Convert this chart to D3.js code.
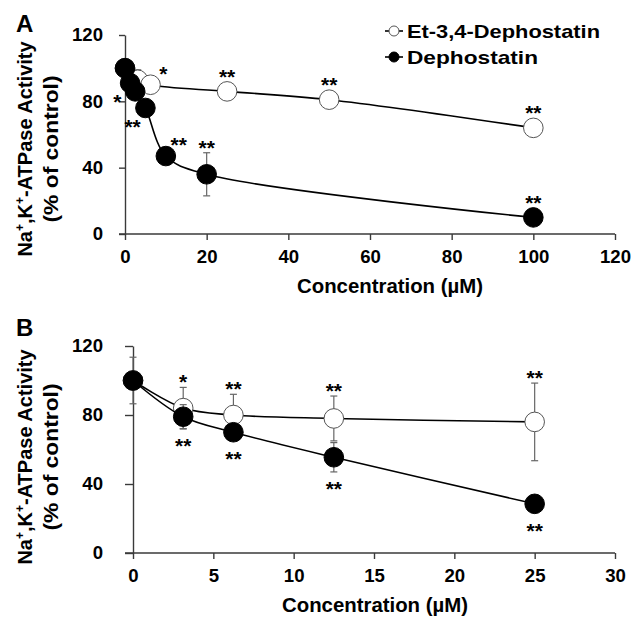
<!DOCTYPE html>
<html>
<head>
<meta charset="utf-8">
<script src="https://cdn.jsdelivr.net/npm/d3@7"></script>
<style>
  body { margin: 0; background: #fff; }
  svg { display: block; font-family: "Liberation Sans", Arial, sans-serif; font-weight: bold; }
</style>
</head>
<body>
<div class="wrapper"></div>
<script>
// Panel A: concentrations up to 100 uM
const aEtConc = [0, 3.125, 6.25, 25, 50, 100]
const aEtValue = [100, 93, 90, 86, 81, 64]
const aEtError = [3, 6, 3, 2, 2, 3]
const aEtSig = ["", "", "*", "**", "**", "**"]

const aDephoConc = [0, 1.25, 2.5, 5, 10, 20, 100]
const aDephoValue = [100, 91, 86, 76, 47, 36, 10]
const aDephoError = [2, 2, 2, 3, 3, 13, 2]
const aDephoSig = ["", "*", "", "**", "**", "**", "**"]

// Panel B: low concentrations
const bConc = [0, 3.125, 6.25, 12.5, 25]
const bEtValue = [100, 84, 80, 78, 76]
const bEtError = [13.5, 12, 12, 13, 22.5]
const bEtSig = ["", "*", "**", "**", "**"]
const bDephoValue = [100, 79, 70, 55.5, 28.5]
const bDephoError = [3, 7, 3, 8.5, 2]
const bDephoSig = ["", "**", "**", "**", "**"]

const aXTicks = [0, 20, 40, 60, 80, 100, 120]
const bXTicks = [0, 5, 10, 15, 20, 25, 30]
const yTicks = [0, 40, 80, 120]

const seriesNames = ["Et-3,4-Dephostatin", "Dephostatin"]
const xTitle = "Concentration (\u00b5M)"

const zip = (xs, ys, es, ss) => xs.map((x, i) => ({x, y: ys[i], e: es[i], s: ss[i]}))

const width = 632
const height = 617
const r = 9.8

const svg = d3.select(".wrapper")
    .append("svg")
    .attr("width", width)
    .attr("height", height)

function sigPos(cx, cy, yTop, yBot, side) {
    if (side === "above") return [cx, Math.min(yTop, cy - r) - 10]
    if (side === "below") return [cx, Math.max(yBot, cy + r) + 12]
    if (side === "lowleft") return [cx - r - 3, cy + r + 4]
    if (side === "upright") return [cx + r + 3, cy - r - 6]
    return [cx, cy]
}

function drawPanel(p) {
    const x = d3.scaleLinear().domain(p.xDomain).range(p.xRange)
    const y = d3.scaleLinear().domain([0, 120]).range(p.yRange)
    const g = svg.append("g")

    const xAxis = g.append("g")
        .attr("transform", `translate(0, ${p.yRange[0]})`)
        .call(d3.axisBottom(x).tickValues(p.xTicks).tickSize(6).tickSizeOuter(0).tickPadding(10))
    const yAxis = g.append("g")
        .attr("transform", `translate(${p.xRange[0]}, 0)`)
        .call(d3.axisLeft(y).tickValues(yTicks).tickSize(p.yTickSize).tickSizeOuter(0).tickPadding(p.yPad))
    ;[xAxis, yAxis].forEach(a => {
        a.selectAll("path, line").attr("stroke", "#3a3a3a").attr("stroke-width", 1.4)
        a.selectAll("text")
            .attr("fill", "#000")
            .style("font-size", "18.6px")
            .style("font-weight", "bold")
            .style("font-family", "'Liberation Sans', Arial, sans-serif")
    })
    // extend x axis line to meet the left tick
    xAxis.select(".domain").attr("d", `M${p.xRange[0] - p.yTickSize},0H${p.xRange[1]}`)

    const line = d3.line()
        .x(d => x(d.x))
        .y(d => y(d.y))
        .curve(d3.curveCatmullRom.alpha(0.5))

    p.series.forEach(s => {
        g.append("path")
            .attr("d", line(s.data))
            .attr("fill", "none")
            .attr("stroke", "#000")
            .attr("stroke-width", 1.6)

        const err = g.append("g").selectAll("g")
            .data(s.data)
            .enter().append("g")
            .attr("stroke", "#666")
            .attr("stroke-width", 1.2)
        err.append("line")
            .attr("x1", d => x(d.x)).attr("x2", d => x(d.x))
            .attr("y1", d => y(d.y + d.e)).attr("y2", d => y(d.y - d.e))
        err.append("line")
            .attr("x1", d => x(d.x) - 3.5).attr("x2", d => x(d.x) + 3.5)
            .attr("y1", d => y(d.y + d.e)).attr("y2", d => y(d.y + d.e))
        err.append("line")
            .attr("x1", d => x(d.x) - 3.5).attr("x2", d => x(d.x) + 3.5)
            .attr("y1", d => y(d.y - d.e)).attr("y2", d => y(d.y - d.e))

        g.append("g").selectAll("circle")
            .data(s.data)
            .enter().append("circle")
            .attr("cx", d => x(d.x))
            .attr("cy", d => y(d.y))
            .attr("r", r)
            .attr("fill", s.filled ? "#000" : "#fff")
            .attr("stroke", s.filled ? "#000" : "#555")
            .attr("stroke-width", 1)
    })

    p.series.forEach(s => {
        s.data.forEach((d, i) => {
            if (!d.s) return
            const [cx, cy] = sigPos(x(d.x), y(d.y), y(d.y + d.e), y(d.y - d.e), s.sides[i])
            g.append("text")
                .attr("x", cx)
                .attr("y", cy + 12)
                .attr("text-anchor", "middle")
                .style("font-size", "21px")
                .text(d.s)
        })
    })

    // panel letter
    g.append("text")
        .attr("x", 16)
        .attr("y", p.letterY)
        .style("font-size", "24px")
        .text(p.letter)

    // y title, two lines
    const yt = g.append("text")
        .attr("transform", `translate(32, ${p.yTitleCenter}) rotate(-90)`)
        .attr("text-anchor", "middle")
        .style("font-size", "20px")
    yt.append("tspan").text("Na")
    yt.append("tspan").attr("dy", -8).style("font-size", "12px").text("+")
    yt.append("tspan").attr("dy", 8).text(",K")
    yt.append("tspan").attr("dy", -8).style("font-size", "12px").text("+")
    yt.append("tspan").attr("dy", 8).text("-ATPase Activity")

    g.append("text")
        .attr("transform", `translate(57.5, ${p.yTitleCenter}) rotate(-90)`)
        .attr("text-anchor", "middle")
        .attr("textLength", 147)
        .attr("lengthAdjust", "spacingAndGlyphs")
        .style("font-size", "21px")
        .text("(% of control)")

    g.append("text")
        .attr("x", p.xTitleStart)
        .attr("y", p.yRange[0] + 59)
        .attr("textLength", 186)
        .attr("lengthAdjust", "spacingAndGlyphs")
        .style("font-size", "20px")
        .text(xTitle)
}

drawPanel({
    letter: "A",
    letterY: 32,
    xDomain: [0, 120],
    xRange: [125, 615],
    yRange: [234, 35],
    xTicks: aXTicks,
    yTickSize: 6,
    yPad: 16,
    yTitleCenter: 149,
    xTitleStart: 297,
    series: [
        {filled: false, data: zip(aEtConc, aEtValue, aEtError, aEtSig),
         sides: ["", "", "upright", "above", "above", "above"]},
        {filled: true, data: zip(aDephoConc, aDephoValue, aDephoError, aDephoSig),
         sides: ["", "lowleft", "", "lowleft", "upright", "above", "above"]},
    ],
})

drawPanel({
    letter: "B",
    letterY: 336,
    xDomain: [0, 30],
    xRange: [133, 615],
    yRange: [553, 346],
    xTicks: bXTicks,
    yTickSize: 8,
    yPad: 22,
    yTitleCenter: 457,
    xTitleStart: 282,
    series: [
        {filled: false, data: zip(bConc, bEtValue, bEtError, bEtSig),
         sides: ["", "above", "above", "above", "above"]},
        {filled: true, data: zip(bConc, bDephoValue, bDephoError, bDephoSig),
         sides: ["", "below", "below", "below", "below"]},
    ],
})

// legend
const legend = svg.append("g")
const legendRows = [{name: seriesNames[0], filled: false, y: 31, len: 193},
                    {name: seriesNames[1], filled: true, y: 57, len: 131}]
legendRows.forEach(row => {
    legend.append("line")
        .attr("x1", 385).attr("x2", 403)
        .attr("y1", row.y).attr("y2", row.y)
        .attr("stroke", "#000").attr("stroke-width", 1.6)
    legend.append("circle")
        .attr("cx", 394).attr("cy", row.y).attr("r", 5)
        .attr("fill", row.filled ? "#000" : "#fff")
        .attr("stroke", row.filled ? "#000" : "#555")
    legend.append("text")
        .attr("x", 407)
        .attr("y", row.y + 7)
        .attr("textLength", row.len)
        .attr("lengthAdjust", "spacingAndGlyphs")
        .style("font-size", "19px")
        .text(row.name)
})
</script>
</body>
</html>
